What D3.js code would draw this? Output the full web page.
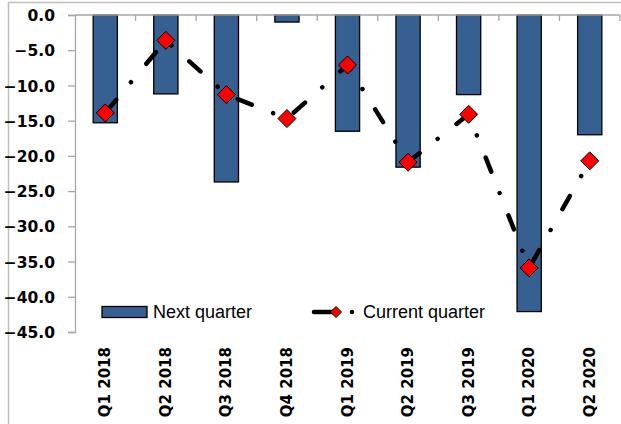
<!DOCTYPE html>
<html>
<head>
<meta charset="utf-8">
<script src="https://cdn.jsdelivr.net/npm/d3@7"></script>
<style>
  html, body { margin: 0; padding: 0; background: #fff; }
  svg { display: block; }
</style>
</head>
<body>
<svg id="chart" width="621" height="424"></svg>
<script>
// Quarterly survey balances
const quarters = ["Q1 2018", "Q2 2018", "Q3 2018", "Q4 2018", "Q1 2019", "Q2 2019", "Q3 2019", "Q1 2020", "Q2 2020"];
const nextQuarter = [-15.3, -11.2, -23.7, -1.0, -16.5, -21.6, -11.3, -42.1, -17.0];
const currentQuarter = [-13.9, -3.6, -11.3, -14.7, -7.1, -20.9, -14.1, -35.9, -20.7];
const yTicks = [0, -5, -10, -15, -20, -25, -30, -35, -40, -45];
const seriesNames = ["Next quarter", "Current quarter"];

const svg = d3.select("#chart");
const W = 621, H = 424;
const plot = { left: 75, right: 620, top: 15, bottom: 332 };

// outer frame
svg.append("path")
  .attr("d", `M8.5,${H} V2.5 H${W}`)
  .attr("fill", "none").attr("stroke", "#BFBFBF").attr("stroke-width", 1.5);

const x = d3.scaleBand().domain(quarters)
  .range([plot.left, plot.right]).paddingInner(0.6).paddingOuter(0.3);
const y = d3.scaleLinear().domain([0, -45]).range([plot.top, plot.bottom]);

// bars
svg.append("g").selectAll("rect").data(nextQuarter).join("rect")
  .attr("x", (d, i) => x(quarters[i]))
  .attr("width", x.bandwidth())
  .attr("y", d => y(0))
  .attr("height", d => y(d) - y(0))
  .attr("fill", "#376092")
  .attr("stroke", "#000").attr("stroke-width", 1.3);

// y axis
const yAxis = d3.axisLeft(y).tickValues(yTicks).tickSize(7).tickPadding(13)
  .tickFormat(d => d3.format(".1f")(d));
const gy = svg.append("g").attr("transform", `translate(${plot.left},0)`).call(yAxis);
gy.select(".domain").attr("stroke", "#A6A6A6").attr("stroke-width", 1.3);
gy.selectAll(".tick line").attr("stroke", "#A6A6A6").attr("stroke-width", 1.3);
gy.selectAll(".tick text")
  .attr("font-family", "'DejaVu Sans', sans-serif").attr("font-weight", "bold")
  .attr("font-size", 15.5).attr("fill", "#000").attr("dy", "0.36em");

// x axis along zero line, tick marks at category boundaries pointing down
const step = x.step();
const boundaries = d3.range(quarters.length + 1).map(i => plot.left + i * step);
const gx = svg.append("g");
gx.append("line").attr("x1", plot.left).attr("x2", plot.right)
  .attr("y1", y(0)).attr("y2", y(0))
  .attr("stroke", "#A6A6A6").attr("stroke-width", 1.3);
gx.selectAll("line.tk").data(boundaries.slice(1)).join("line").attr("class", "tk")
  .attr("x1", d => d).attr("x2", d => d)
  .attr("y1", y(0)).attr("y2", y(0) + 6)
  .attr("stroke", "#A6A6A6").attr("stroke-width", 1.3);

// category labels, rotated, at the bottom
svg.append("g").selectAll("text").data(quarters).join("text")
  .attr("transform", d => `translate(${x(d) + x.bandwidth() / 2 + 5},347) rotate(-90)`)
  .attr("text-anchor", "end")
  .attr("font-family", "'DejaVu Sans', sans-serif").attr("font-weight", "bold")
  .attr("font-size", 15).attr("fill", "#000")
  .text(d => d);

// current quarter line
const cx = (i) => x(quarters[i]) + x.bandwidth() / 2;
const line = d3.line().x((d, i) => cx(i)).y(d => y(d));
svg.append("path").datum(currentQuarter)
  .attr("d", line)
  .attr("fill", "none").attr("stroke", "#000").attr("stroke-width", 4.5)
  .attr("stroke-linecap", "round")
  .attr("stroke-dasharray", "15,23,0.01,24")
  .attr("stroke-dashoffset", -2);

const diamond = (cxp, cyp, r) => `M${cxp},${cyp - r} L${cxp + r},${cyp} L${cxp},${cyp + r} L${cxp - r},${cyp} Z`;
svg.append("g").selectAll("path").data(currentQuarter).join("path")
  .attr("d", (d, i) => diamond(cx(i), y(d), 9))
  .attr("fill", "#FF0000").attr("stroke", "#000").attr("stroke-width", 1);

// legend
const lg = svg.append("g");
const ly = 312;
lg.append("rect").attr("x", 102).attr("y", ly - 5.5).attr("width", 45).attr("height", 11)
  .attr("fill", "#376092").attr("stroke", "#000").attr("stroke-width", 1.3);
lg.append("text").attr("x", 153).attr("y", ly + 6)
  .attr("font-family", "'Liberation Sans', Arial, sans-serif").attr("font-size", 18)
  .attr("fill", "#000").text(seriesNames[0]);

lg.append("line").attr("x1", 314).attr("x2", 334).attr("y1", ly).attr("y2", ly)
  .attr("stroke", "#000").attr("stroke-width", 4.5).attr("stroke-linecap", "round");
lg.append("path").attr("d", diamond(336, ly, 5.5))
  .attr("fill", "#FF0000").attr("stroke", "#000").attr("stroke-width", 1);
lg.append("circle").attr("cx", 352).attr("cy", ly).attr("r", 2.3).attr("fill", "#000");
lg.append("text").attr("x", 363).attr("y", ly + 6)
  .attr("font-family", "'Liberation Sans', Arial, sans-serif").attr("font-size", 18)
  .attr("fill", "#000").text(seriesNames[1]);
</script>
</body>
</html>
